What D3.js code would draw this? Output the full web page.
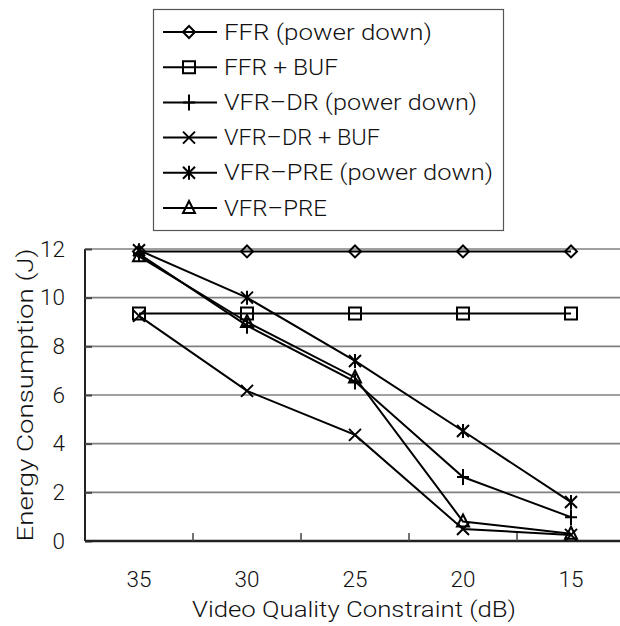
<!DOCTYPE html>
<html>
<head>
<meta charset="utf-8">
<script src="https://cdn.jsdelivr.net/npm/d3@7"></script>
<style>
html,body{margin:0;padding:0;background:#fff;}
svg{display:block;}
text{font-family:Roboto,"Liberation Sans",Arial,sans-serif;font-weight:300;fill:#111;}
</style>
</head>
<body>
<svg id="chart" width="620" height="626"></svg>
<script>
// ---- data ----
const categories = ["35", "30", "25", "20", "15"];
const yTicks = [0, 2, 4, 6, 8, 10, 12];
const seriesNames = ["FFR (power down)", "FFR + BUF", "VFR\u2013DR (power down)", "VFR\u2013DR + BUF", "VFR\u2013PRE (power down)", "VFR\u2013PRE"];
const seriesMarkers = ["diamond", "square", "plus", "cross", "asterisk", "triangle"];
const ffrPowerDown = [11.9, 11.9, 11.9, 11.9, 11.9];
const ffrBuf = [9.35, 9.35, 9.35, 9.35, 9.35];
const vfrDrPowerDown = [11.8, 8.85, 6.55, 2.63, 0.98];
const vfrDrBuf = [9.25, 6.17, 4.36, 0.49, 0.25];
const vfrPrePowerDown = [11.95, 10.0, 7.4, 4.52, 1.6];
const vfrPre = [11.7, 9.0, 6.72, 0.8, 0.3];
const seriesValues = [ffrPowerDown, ffrBuf, vfrDrPowerDown, vfrDrBuf, vfrPrePowerDown, vfrPre];
const xTitle = "Video Quality Constraint (dB)";
const yTitle = "Energy Consumption (J)";

// ---- layout / style ----
const legendTextWidths = [208, 114, 253, 156, 269, 103];
const svg = d3.select("#chart");
const x = d3.scaleBand().domain(categories).range([85, 625]).paddingInner(0).paddingOuter(0);
const y = d3.scaleLinear().domain([0, 12]).range([541, 249]);
const FONT = 21.5;
const TICKFONT = 22.5;
const FF = "Roboto, Liberation Sans, Arial, sans-serif";

// gridlines
svg.append("g").selectAll("line").data(yTicks.filter(d => d > 0)).join("line")
  .attr("x1", 85).attr("x2", 620)
  .attr("y1", d => y(d)).attr("y2", d => y(d))
  .attr("stroke", "#808080").attr("stroke-width", 1.6);

// y axis
const yAxis = d3.axisLeft(y).tickValues(yTicks).tickSize(-7).tickPadding(20).tickFormat(d3.format("d"));
const gy = svg.append("g").attr("transform", "translate(85,0)").call(yAxis);
gy.select(".domain").attr("stroke", "#222").attr("stroke-width", 2).attr("d", `M0,${y(0)}V${y(12)}`);
gy.selectAll(".tick line").attr("stroke", "#444").attr("stroke-width", 2);
gy.selectAll(".tick text").attr("font-size", TICKFONT).attr("font-family", FF).attr("font-weight", 300).attr("fill", "#111");

// x axis
const gx = svg.append("g").attr("transform", `translate(0,${y(0)})`);
gx.append("line").attr("x1", 85).attr("x2", 620).attr("y1", 0).attr("y2", 0).attr("stroke", "#222").attr("stroke-width", 2.4);
gx.selectAll("line.tk").data(categories.slice(1)).join("line").attr("class", "tk")
  .attr("x1", d => x(d)).attr("x2", d => x(d)).attr("y1", 0).attr("y2", -8)
  .attr("stroke", "#444").attr("stroke-width", 1.5);
gx.selectAll("text").data(categories).join("text")
  .attr("x", d => x(d) + x.bandwidth() / 2).attr("y", 46)
  .attr("text-anchor", "middle").attr("font-size", TICKFONT).text(d => d);

// titles
svg.append("text").attr("x", 354).attr("y", 617).attr("text-anchor", "middle")
  .attr("font-size", FONT).attr("textLength", 324).attr("lengthAdjust", "spacingAndGlyphs").text(xTitle);
svg.append("text").attr("transform", "translate(33,395) rotate(-90)").attr("text-anchor", "middle")
  .attr("font-size", FONT).attr("textLength", 293).attr("lengthAdjust", "spacingAndGlyphs").text(yTitle);

// marker paths
function markerPath(type, cx, cy) {
  const p = d3.path();
  switch (type) {
    case "diamond": p.moveTo(cx, cy - 6); p.lineTo(cx + 6, cy); p.lineTo(cx, cy + 6); p.lineTo(cx - 6, cy); p.closePath(); break;
    case "square": p.rect(cx - 6, cy - 6, 12, 12); break;
    case "plus": p.moveTo(cx - 6, cy); p.lineTo(cx + 6, cy); p.moveTo(cx, cy - 8); p.lineTo(cx, cy + 8); break;
    case "cross": p.moveTo(cx - 6, cy - 6); p.lineTo(cx + 6, cy + 6); p.moveTo(cx + 6, cy - 6); p.lineTo(cx - 6, cy + 6); break;
    case "asterisk": p.moveTo(cx - 6, cy - 6); p.lineTo(cx + 6, cy + 6); p.moveTo(cx + 6, cy - 6); p.lineTo(cx - 6, cy + 6); p.moveTo(cx, cy - 7); p.lineTo(cx, cy + 7); break;
    case "triangle": p.moveTo(cx, cy - 7); p.lineTo(cx + 6, cy + 5); p.lineTo(cx - 6, cy + 5); p.closePath(); break;
  }
  return p.toString();
}

// series
const line = d3.line().x((d, i) => x(categories[i]) + x.bandwidth() / 2).y(d => y(d));
seriesValues.forEach((vals, si) => {
  const g = svg.append("g");
  g.append("path").attr("d", line(vals)).attr("fill", "none").attr("stroke", "#000").attr("stroke-width", 2);
  g.selectAll("path.m").data(vals).join("path").attr("class", "m")
    .attr("d", (d, i) => markerPath(seriesMarkers[si], x(categories[i]) + x.bandwidth() / 2, y(d)))
    .attr("fill", "none").attr("stroke", "#000").attr("stroke-width", 2);
});

// legend
const lg = svg.append("g");
lg.append("rect").attr("x", 153.5).attr("y", 9.5).attr("width", 350).attr("height", 221)
  .attr("fill", "#fff").attr("stroke", "#555").attr("stroke-width", 1.2);
const rowY = d3.scaleLinear().domain([0, 5]).range([32, 208]);
seriesNames.forEach((name, i) => {
  const cy = rowY(i);
  lg.append("line").attr("x1", 163).attr("x2", 217).attr("y1", cy).attr("y2", cy).attr("stroke", "#000").attr("stroke-width", 2);
  lg.append("path").attr("d", markerPath(seriesMarkers[i], 189, cy)).attr("fill", "none").attr("stroke", "#000").attr("stroke-width", 2);
  lg.append("text").attr("x", 224).attr("y", cy + 7.5).attr("font-size", FONT)
    .attr("textLength", legendTextWidths[i]).attr("lengthAdjust", "spacingAndGlyphs").text(name);
});
</script>
</body>
</html>
